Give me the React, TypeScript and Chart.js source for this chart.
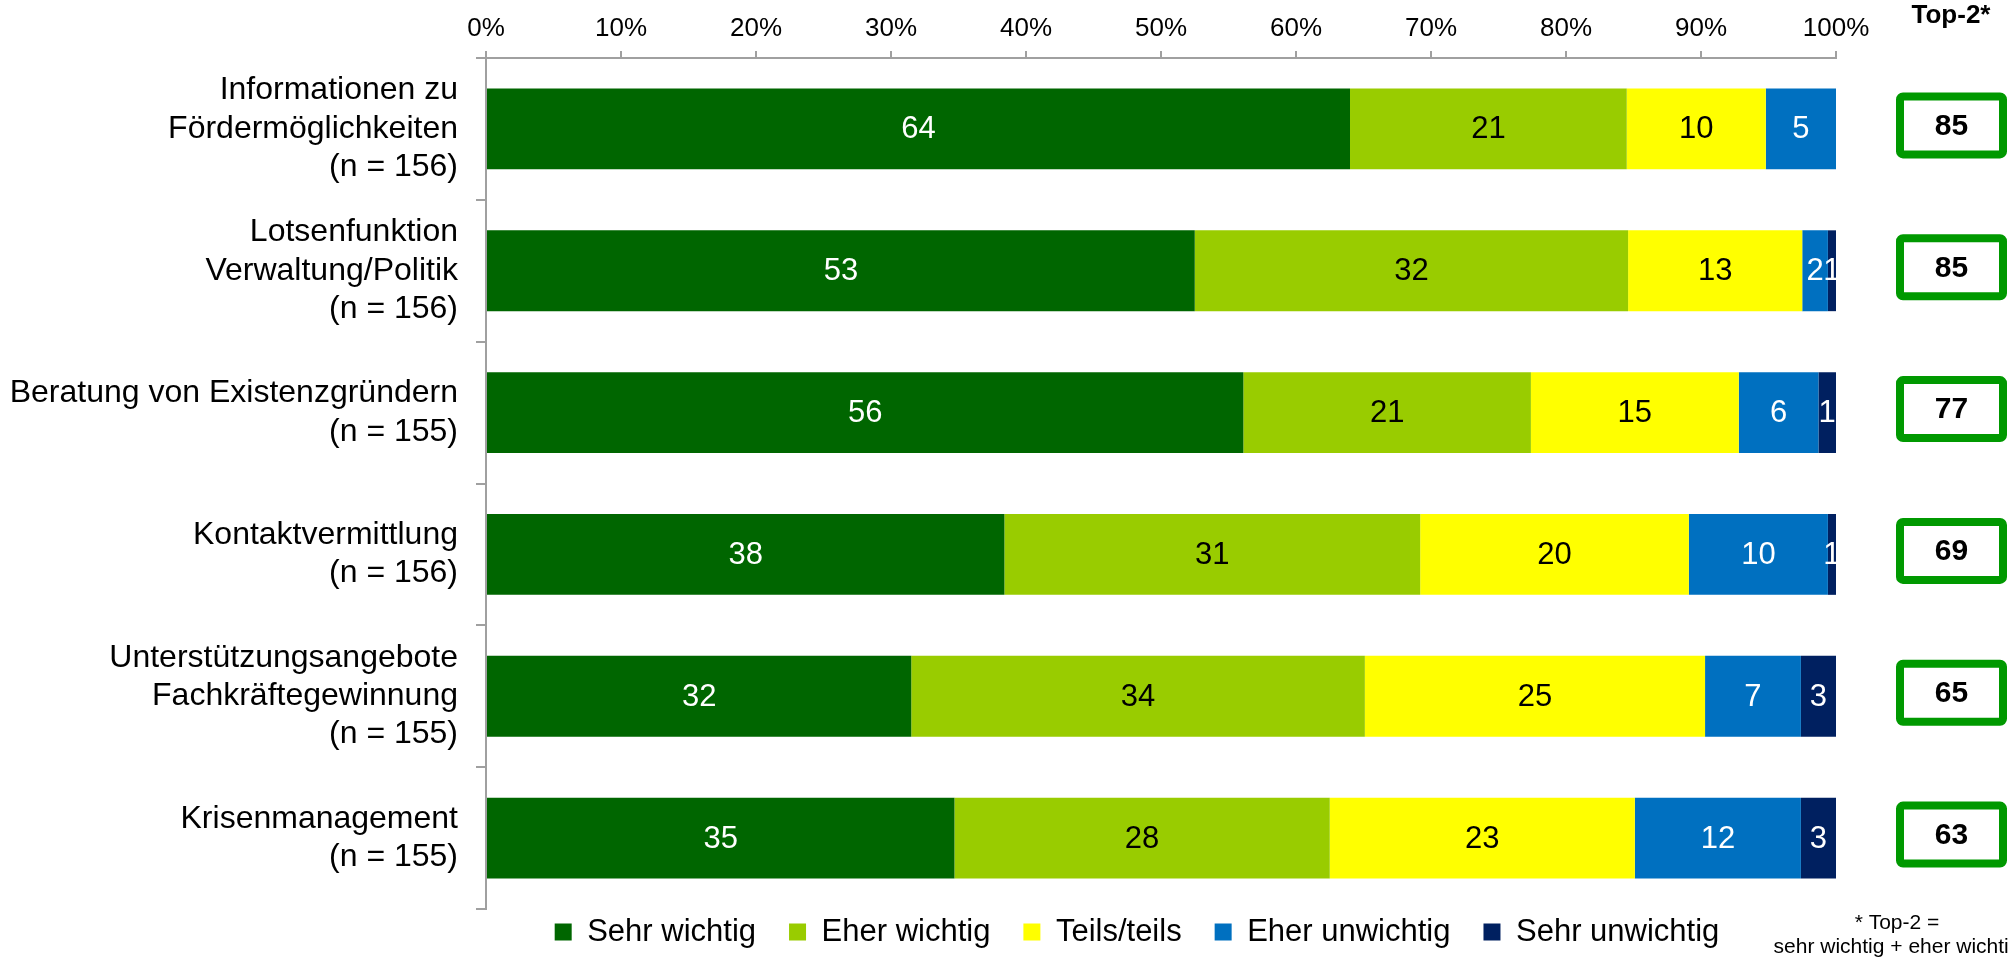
import React, { useEffect, useRef } from "react";
import { Chart, registerables } from "chart.js";

Chart.register(...registerables);

const FONT = "'Liberation Sans', Arial, Helvetica, sans-serif";

const categories: string[][] = [
  ["Informationen zu", "Fördermöglichkeiten", "(n = 156)"],
  ["Lotsenfunktion", "Verwaltung/Politik", "(n = 156)"],
  ["Beratung von Existenzgründern", "(n = 155)"],
  ["Kontaktvermittlung", "(n = 156)"],
  ["Unterstützungsangebote", "Fachkräftegewinnung", "(n = 155)"],
  ["Krisenmanagement", "(n = 155)"],
];

const seriesNames = ["Sehr wichtig", "Eher wichtig", "Teils/teils", "Eher unwichtig", "Sehr unwichtig"];
const seriesColors = ["#006600", "#99CC00", "#FFFF00", "#0070C0", "#002060"];
const labelColors = ["#FFFFFF", "#000000", "#000000", "#FFFFFF", "#FFFFFF"];

const sehrWichtig = [64.0, 52.5, 56.1, 38.4, 31.5, 34.7];
const eherWichtig = [20.5, 32.1, 21.3, 30.8, 33.6, 27.8];
const teilsTeils = [10.3, 12.9, 15.4, 19.9, 25.2, 22.6];
const eherUnwichtig = [5.2, 1.9, 5.9, 10.3, 7.1, 12.3];
const sehrUnwichtig = [0, 0.6, 1.3, 0.6, 2.6, 2.6];

const top2 = [85, 85, 77, 69, 65, 63];
const top2Header = "Top-2*";
const footnote = ["* Top-2 =", "sehr wichtig + eher wichtig"];

const xTickValues = [0, 10, 20, 30, 40, 50, 60, 70, 80, 90, 100];

const seriesValues = [sehrWichtig, eherWichtig, teilsTeils, eherUnwichtig, sehrUnwichtig];

const LEGEND_PAD = 33;
const LEGEND_FONT = 31;

const layoutPlugin = {
  id: "legendPlace",
  afterLayout(chart: any) {
    const lg = chart.legend;
    if (!lg) return;
    const desiredCenterY = 932;
    const top = desiredCenterY - LEGEND_PAD - LEGEND_FONT / 2;
    lg.top = top;
    lg.bottom = chart.height;
    lg.height = chart.height - top;
    const dx = 1137 - (lg.left + lg.right) / 2;
    lg.left += dx;
    lg.right += dx;
  },
};

const valueLabelPlugin = {
  id: "valueLabels",
  afterDatasetsDraw(chart: any) {
    const ctx = chart.ctx;
    ctx.save();
    ctx.font = `31px ${FONT}`;
    ctx.textAlign = "center";
    ctx.textBaseline = "middle";
    chart.data.datasets.forEach((ds: any, di: number) => {
      const meta = chart.getDatasetMeta(di);
      meta.data.forEach((el: any, i: number) => {
        const v = ds.data[i];
        if (!v) return;
        const cx = (el.x + el.base) / 2;
        ctx.fillStyle = labelColors[di];
        ctx.fillText(String(Math.round(v)), cx, el.y + 1);
      });
    });
    ctx.restore();
  },
};

const top2Plugin = {
  id: "top2Boxes",
  afterDraw(chart: any) {
    const ctx = chart.ctx;
    const yScale = chart.scales.y;
    ctx.save();
    const cx = 1951.5;
    const w = 103;
    const h = 58;
    top2.forEach((v, i) => {
      const cy = yScale.getPixelForValue(i) - 3.5;
      ctx.lineWidth = 8;
      ctx.strokeStyle = "#009900";
      ctx.fillStyle = "#FFFFFF";
      ctx.beginPath();
      if ((ctx as any).roundRect) {
        (ctx as any).roundRect(cx - w / 2, cy - h / 2, w, h, 3);
      } else {
        ctx.rect(cx - w / 2, cy - h / 2, w, h);
      }
      ctx.fill();
      ctx.stroke();
      ctx.fillStyle = "#000000";
      ctx.font = `bold 30px ${FONT}`;
      ctx.textAlign = "center";
      ctx.textBaseline = "middle";
      ctx.fillText(String(v), cx, cy + 1);
    });
    ctx.font = `bold 26px ${FONT}`;
    ctx.textAlign = "center";
    ctx.textBaseline = "alphabetic";
    ctx.fillStyle = "#000000";
    ctx.fillText(top2Header, 1951, 23);

    ctx.font = `21px ${FONT}`;
    ctx.textBaseline = "middle";
    ctx.fillText(footnote[0], 1897, 923);
    ctx.fillText(footnote[1], 1897, 947);
    ctx.restore();
  },
};

export default function App() {
  const canvasRef = useRef<HTMLCanvasElement | null>(null);

  useEffect(() => {
    if (!canvasRef.current) return;
    const chart = new Chart(canvasRef.current, {
      type: "bar",
      data: {
        labels: categories,
        datasets: seriesNames.map((name, i) => ({
          label: name,
          data: seriesValues[i],
          backgroundColor: seriesColors[i],
          borderWidth: 0,
          barPercentage: 0.57,
          categoryPercentage: 1,
        })),
      },
      options: {
        indexAxis: "y",
        animation: false,
        responsive: false,
        devicePixelRatio: 1,
        events: [],
        layout: { padding: { left: 0, right: 172, top: 0, bottom: 0 }, autoPadding: false },
        plugins: {
          tooltip: { enabled: false },
          title: { display: false },
          legend: {
            display: true,
            position: "bottom",
            maxHeight: 49,
            labels: {
              font: { family: FONT, size: LEGEND_FONT },
              color: "#000000",
              boxWidth: 17,
              boxHeight: 17,
              padding: LEGEND_PAD,
            },
          },
        },
        scales: {
          x: {
            type: "linear",
            position: "top",
            stacked: true,
            min: 0,
            max: 100,
            afterBuildTicks: (scale: any) => {
              scale.ticks = xTickValues.map((v) => ({ value: v }));
            },
            afterFit: (scale: any) => {
              scale.height = 58;
              scale.paddingLeft = 0;
              scale.paddingRight = 0;
            },
            ticks: {
              font: { family: FONT, size: 26 },
              color: "#000000",
              padding: 7,
              maxRotation: 0,
              autoSkip: false,
              callback: (v: any) => `${v}%`,
            },
            grid: {
              drawOnChartArea: false,
              drawTicks: true,
              tickLength: 7,
              color: "#A0A0A0",
              lineWidth: 2,
            },
            border: { display: true, color: "#A0A0A0", width: 2 },
          },
          y: {
            type: "category",
            stacked: true,
            afterFit: (scale: any) => {
              scale.width = 486;
              scale.paddingTop = 0;
              scale.paddingBottom = 0;
            },
            ticks: {
              font: { family: FONT, size: 32 },
              color: "#000000",
              padding: 18,
              autoSkip: false,
            },
            grid: {
              drawOnChartArea: false,
              drawTicks: true,
              tickLength: 10,
              offset: true,
              color: "#A0A0A0",
              lineWidth: 2,
            },
            border: { display: true, color: "#A0A0A0", width: 2 },
          },
        },
      },
      plugins: [layoutPlugin, valueLabelPlugin, top2Plugin],
    } as any);
    return () => chart.destroy();
  }, []);

  return (
    <div style={{ position: "absolute", left: 0, top: 0, width: 2008, height: 958, background: "#FFFFFF" }}>
      <canvas ref={canvasRef} width={2008} height={958} style={{ display: "block" }} />
    </div>
  );
}
